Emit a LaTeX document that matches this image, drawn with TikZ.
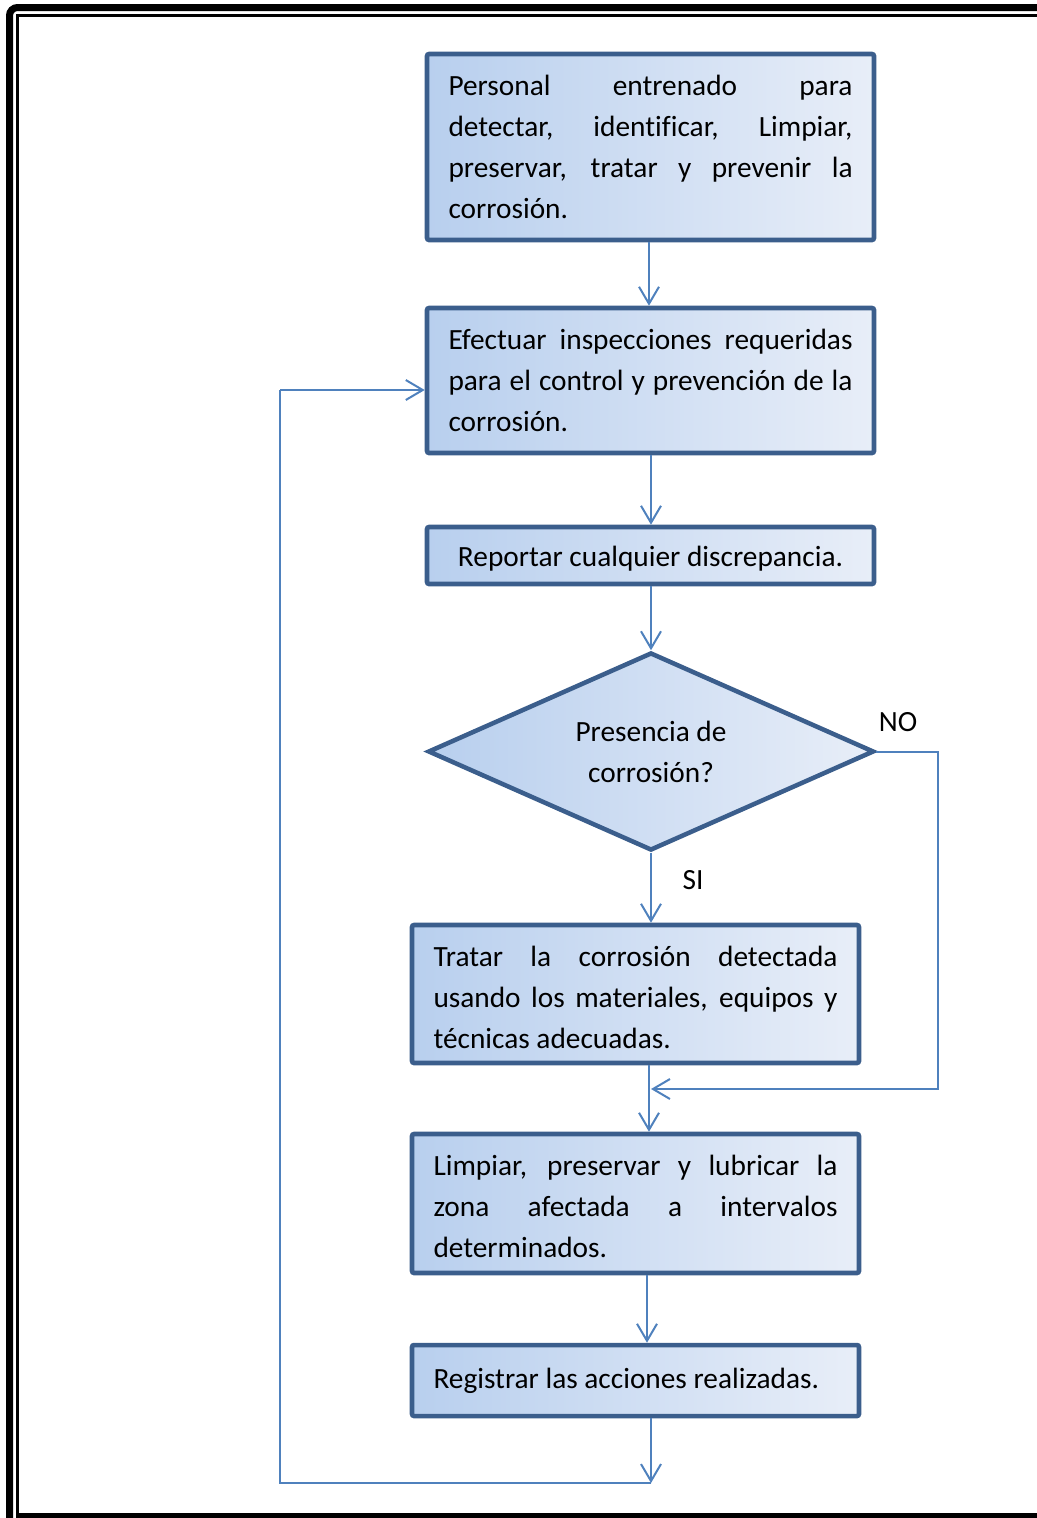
\documentclass[tikz,border=0pt]{standalone}
\usepackage{fontspec}
\setmainfont{Carlito}[Ligatures=CommonOff]
\usetikzlibrary{arrows.meta,shapes.geometric}

\definecolor{boxline}{RGB}{59,94,140}
\definecolor{flow}{RGB}{79,129,189}
\definecolor{shadeL}{RGB}{184,207,238}
\definecolor{shadeR}{RGB}{232,238,248}

\newcommand\bodytext{\fontsize{22pt}{30.75pt}\selectfont}
% justified block of text; optional argument = extra space on top
\newcommand\boxtext[2][0pt]{\parbox{303pt}{\vspace*{#1}\bodytext\hbadness=10000 \hyphenpenalty=10000 #2}}

\hbadness=10000
\hyphenpenalty=10000

\begin{document}
\begin{tikzpicture}[x=0.75pt,y=-0.75pt,
  procbox/.style={draw=boxline, line width=3.4pt, rounded corners=1.5pt,
    left color=shadeL, right color=shadeR, inner sep=0pt},
  decision/.style={diamond, shape aspect=2.25, draw=boxline, line width=3.4pt,
    left color=shadeL, right color=shadeR, inner sep=0pt,
    font=\bodytext, align=center},
  flow/.style={draw=flow, line width=1.5pt,
    -{Straight Barb[length=12.75pt,width=15pt,line width=1.5pt]}},
  flowline/.style={draw=flow, line width=1.5pt},
  label/.style={font=\bodytext, inner sep=0pt}]

\useasboundingbox (0,0) rectangle (1037,1518);
\clip (0,0) rectangle (1037,1518);

% page frame: thick outer rule and thin inner rule
\draw[line width=5.25pt, rounded corners=6pt] (9.5,1530) -- (9.5,7.5) -- (1045,7.5);
\draw[line width=2.25pt] (17.5,1530) -- (17.5,15.5) -- (1045,15.5);
\draw[line width=3.75pt] (16,1515.8) -- (1045,1515.8);

% process steps
\node[procbox, minimum width=335.25pt, minimum height=139.5pt] (b1) at (650.5,147)
  {\boxtext{Personal entrenado para\linebreak detectar, identificar, Limpiar,\linebreak preservar, tratar y prevenir la\linebreak corrosión.}};
\node[procbox, minimum width=335.25pt, minimum height=108.75pt] (b2) at (650.5,380.5)
  {\boxtext{Efectuar inspecciones requeridas\linebreak para el control y prevención de la\linebreak corrosión.}};
\node[procbox, minimum width=335.25pt, minimum height=42.75pt] (b3) at (650.5,555.5)
  {\boxtext[4.5pt]{\centering Reportar cualquier discrepancia.}};
\node[decision, minimum width=334.5pt, minimum height=148.5pt] (d) at (651,751.5)
  {Presencia de\\corrosión?};
\node[procbox, minimum width=335.25pt, minimum height=103.5pt] (b4) at (635.5,994)
  {\boxtext[4.5pt]{Tratar la corrosión detectada\linebreak usando los materiales, equipos y\linebreak técnicas adecuadas.}};
\node[procbox, minimum width=335.25pt, minimum height=104.25pt] (b5) at (635.5,1203.5)
  {\boxtext[4.5pt]{Limpiar, preservar y lubricar la\linebreak zona afectada a intervalos\linebreak determinados.}};
\node[procbox, minimum width=335.25pt, minimum height=53.25pt] (b6) at (635.5,1380.5)
  {\boxtext{Registrar las acciones realizadas.}};

% branch labels
\node[label] (no) at (898,722) {NO};
\node[label] (si) at (693,880) {SI};

% helper points for the routed connectors
\coordinate (noturn) at (938,1089);
\coordinate (retbot) at (651,1483);
\coordinate (retleft) at (280,1483);
\coordinate (rettop) at (280,390);

% main flow
\draw[flow] (b1.south -| 649,0) -- (b2.north -| 649,0);
\draw[flow] (b2.south -| d.north) -- (b3.north -| d.north);
\draw[flow] (b3.south -| d.north) -- (d.north);
\draw[flow] (d.south) -- (b4.north -| d.south);
\draw[flow] (b4.south -| 649,0) -- (b5.north -| 649,0);
\draw[flow] (b5.south -| 647,0) -- (b6.north -| 647,0);
\draw[flow] (b6.south -| d.south) -- (retbot);

% NO branch rejoins below step four
\draw[flow] (d.east) -| (noturn) -- (noturn -| d.south);

% loop back to the inspection step
\draw[flowline] (retbot) -- (retleft) -- (rettop);
\draw[flow] (rettop) -- (b2.west |- rettop);
\end{tikzpicture}
\end{document}
